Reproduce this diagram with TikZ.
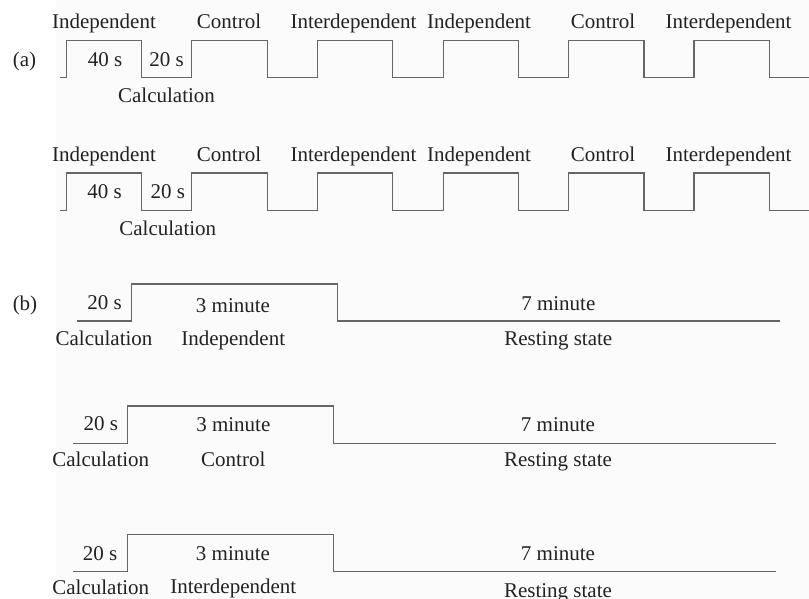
\documentclass[tikz,border=0pt]{standalone}
\usepackage{fontspec}
\setmainfont{Liberation Serif}
\definecolor{txt}{HTML}{222222}
\definecolor{wavecol}{HTML}{666666}
\definecolor{bgpanel}{HTML}{FBFBFB}
\begin{document}
\begin{tikzpicture}[x=1pt,y=-1pt,
  lab/.style={anchor=base, inner sep=0pt, font=\fontsize{21}{24}\selectfont, text=txt},
  wave/.style={draw=wavecol, line width=1.5pt, line join=miter}]
\useasboundingbox (0,0) rectangle (809,599);
\fill[white] (0,0) rectangle (809,599);
\fill[bgpanel] (56,0) rectangle (809,599);

% ---------- (a) first row ----------
\draw[wave] (60,77.7) -| (66.7,40.7) -| (141.7,77.7) -| (191.7,40.7) -| (267.3,77.7)
  -| (317.3,40.7) -| (392.7,77.7) -| (443.3,40.7) -| (518.3,77.7) -| (568.3,40.7)
  -| (644,77.7) -| (694,40.7) -| (769.3,77.7) -- (809,77.7);
\node[lab] (a1t1) at (104,28.5) {Independent};
\node[lab] (a1t2) at (229,28.5) {Control};
\node[lab] (a1t3) at (353.5,28.5) {Interdependent};
\node[lab] (a1t4) at (479,28.5) {Independent};
\node[lab] (a1t5) at (603,28.5) {Control};
\node[lab] (a1t6) at (728.5,28.5) {Interdependent};
\node[lab] (alab) at (24.5,66.5) {(a)};
\node[lab] (a1s40) at (105,66.5) {40 s};
\node[lab] (a1s20) at (166.7,66.5) {20 s};
\node[lab] (a1calc) at (166.5,102.7) {Calculation};

% ---------- (a) second row ----------
\draw[wave] (60,210.7) -| (66.7,173) -| (141.7,210.7) -| (191.7,173) -| (267.3,210.7)
  -| (317.3,173) -| (392.7,210.7) -| (443.3,173) -| (518.3,210.7) -| (568.3,173)
  -| (644,210.7) -| (694,173) -| (769.3,210.7) -- (809,210.7);
\node[lab] (a2t1) at (104,161) {Independent};
\node[lab] (a2t2) at (229,161) {Control};
\node[lab] (a2t3) at (353.5,161) {Interdependent};
\node[lab] (a2t4) at (479,161) {Independent};
\node[lab] (a2t5) at (603,161) {Control};
\node[lab] (a2t6) at (728.5,161) {Interdependent};
\node[lab] (a2s40) at (104.5,198.8) {40 s};
\node[lab] (a2s20) at (167.8,198.8) {20 s};
\node[lab] (a2calc) at (167.8,236) {Calculation};

% ---------- (b) ----------
\node[lab] (blab) at (25,310) {(b)};

\draw[wave] (76.7,321) -| (131.7,284) -| (337.3,321) -- (780,321);
\node[lab] (b1s20) at (104.5,309.5) {20 s};
\node[lab] (b1m3) at (233,312) {3 minute};
\node[lab] (b1calc) at (104,345.7) {Calculation};
\node[lab] (b1ind) at (233.2,345.7) {Independent};
\node[lab] (b1m7) at (558.3,310) {7 minute};
\node[lab] (b1rest) at (558.3,345.7) {Resting state};

\draw[wave] (72.7,443.3) -| (127.7,406) -| (333.3,443.3) -- (776,443.3);
\node[lab] (b2s20) at (100.8,430.7) {20 s};
\node[lab] (b2m3) at (233.3,431.5) {3 minute};
\node[lab] (b2calc) at (100.8,466.7) {Calculation};
\node[lab] (b2ctl) at (233.3,466.7) {Control};
\node[lab] (b2m7) at (558,431) {7 minute};
\node[lab] (b2rest) at (558,466.7) {Resting state};

\draw[wave] (72.7,571.7) -| (127.7,534.7) -| (333.3,571.7) -- (776,571.7);
\node[lab] (b3s20) at (100,560) {20 s};
\node[lab] (b3m3) at (233,560) {3 minute};
\node[lab] (b3calc) at (100.8,594.3) {Calculation};
\node[lab] (b3int) at (233.3,593.5) {Interdependent};
\node[lab] (b3m7) at (558,560) {7 minute};
\node[lab] (b3rest) at (558,597) {Resting state};
\end{tikzpicture}
\end{document}
